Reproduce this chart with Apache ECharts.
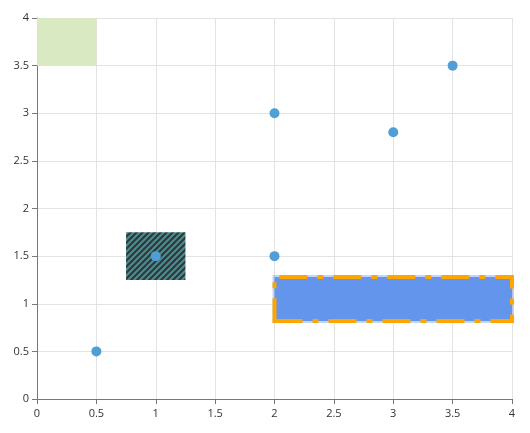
<!DOCTYPE html>
<html><head><meta charset="utf-8">
<script src="https://cdn.jsdelivr.net/npm/echarts@6/dist/echarts.min.js"></script>
<style>html,body{margin:0;padding:0;background:#fff}#c{width:530px;height:433px}</style>
</head><body><div id="c"></div>
<script>
var points = [[0.5,0.5],[1,1.5],[2,1.5],[2,3],[3,2.8],[3.5,3.5]];
var greenArea = [[0,3.5],[0.5,4]];
var hatchArea = [[0.75,1.25],[1.25,1.75]];
var blueArea = [[2,0.82],[4,1.28]];
var axisMin = 0, axisMax = 4, axisStep = 0.5;

function makeHatch(){
  var s = 6, cv = document.createElement('canvas');
  cv.width = s; cv.height = s;
  var ctx = cv.getContext('2d');
  ctx.fillStyle = '#2e363c'; ctx.fillRect(0,0,s,s);
  ctx.strokeStyle = '#4f8a8c'; ctx.lineWidth = 2.2;
  ctx.beginPath();
  ctx.moveTo(-1,s+1); ctx.lineTo(s+1,-1);
  ctx.moveTo(-1-s,s+1); ctx.lineTo(1,-1);
  ctx.moveTo(s-1,s+1); ctx.lineTo(2*s+1,-1);
  ctx.stroke();
  return cv;
}
function area(a, style){
  return [{coord:a[0], itemStyle:style}, {coord:a[1]}];
}
var chart = echarts.init(document.getElementById('c'));
var axisCommon = {
  type:'value', min:axisMin, max:axisMax, interval:axisStep,
  axisLine:{show:true, lineStyle:{color:'#777'}},
  axisTick:{show:true, length:5, lineStyle:{color:'#777'}},
  axisLabel:{color:'#333', fontSize:11, fontFamily:'Open Sans'},
  splitLine:{lineStyle:{color:'#e3e3e3'}}
};
chart.setOption({
  animation:false,
  grid:{left:37, right:18, top:18, bottom:34},
  xAxis: Object.assign({}, axisCommon, {axisLabel:Object.assign({}, axisCommon.axisLabel, {margin:9})}),
  yAxis: Object.assign({}, axisCommon, {axisLabel:Object.assign({}, axisCommon.axisLabel, {margin:8})}),
  series:[{
    type:'scatter', data:points, symbolSize:10, z:5,
    itemStyle:{color:'#4f9fd6', opacity:1},
    markArea:{
      silent:true,
      label:{show:false},
      data:[
        area(greenArea, {color:'#d9e9c1', opacity:1}),
        area(hatchArea, {color:{image:makeHatch(), repeat:'repeat'}, opacity:1}),
        area(blueArea, {color:'#6495ed', opacity:1, borderColor:'rgba(100,149,237,0.4)', borderWidth:4}),
        area(blueArea, {color:'rgba(0,0,0,0)', opacity:1, borderColor:'#ffa500', borderWidth:4, borderType:[28,10,6,10]})
      ]
    }
  }]
});
</script></body></html>
